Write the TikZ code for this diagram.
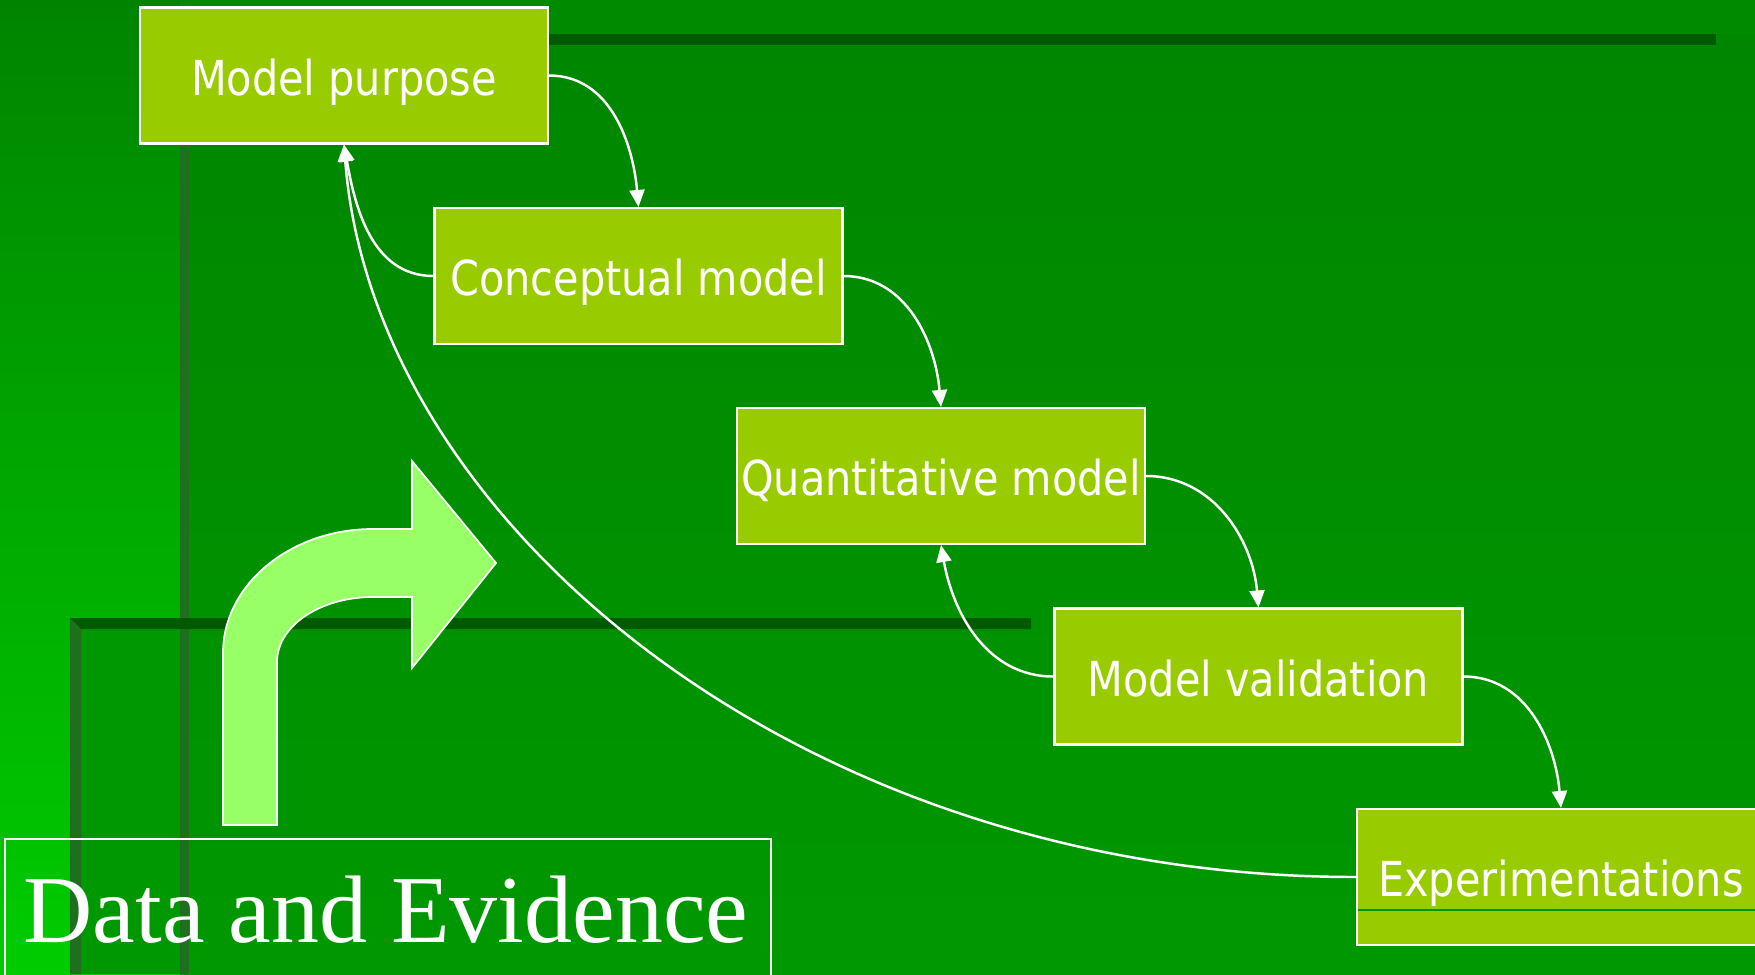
\documentclass[tikz,border=0pt]{standalone}
\usepackage{fontspec}
\usepackage{tikz}
\usetikzlibrary{arrows.meta}
\newfontfamily\boxfont[FakeStretch=0.86]{DejaVu Sans}
\newfontfamily\titlefont{Liberation Serif}
\definecolor{stripTop}{RGB}{0,132,0}
\definecolor{stripBot}{RGB}{0,204,0}
\definecolor{topGreen}{RGB}{0,138,0}
\definecolor{panelTop}{RGB}{0,134,0}
\definecolor{panelBot}{RGB}{0,152,0}
\definecolor{bandGreen}{RGB}{0,90,0}
\definecolor{frameGreen}{RGB}{30,112,30}
\definecolor{boxGreen}{RGB}{153,204,0}
\definecolor{turnGreen}{RGB}{153,255,102}

\begin{document}
\begin{tikzpicture}[x=0.1mm,y=0.1mm,
  stage/.style={draw=white, line width=0.6pt, fill=boxGreen, text=white,
    minimum width=40.8mm, minimum height=13.6mm, inner sep=0pt,
    font=\boxfont\fontsize{13.7pt}{16pt}\selectfont, text height=3.9mm, text depth=0pt},
  flow/.style={draw=white, line width=0.7pt, -{Triangle[length=1.7mm,width=1.5mm]}}]
  \useasboundingbox (0,0) rectangle (1755,-974);
  \shade[top color=stripTop, bottom color=stripBot] (0,0) rectangle (180,-974);
  \fill[topGreen] (180,0) rectangle (1755,-34);
  \shade[top color=panelTop, bottom color=panelBot] (180,-34) rectangle (1755,-974);
  \fill[panelBot] (70,-618) rectangle (180,-974);
  \fill[bandGreen] (189,-34) rectangle (1716,-45);
  \fill[frameGreen] (180,-34) rectangle (189,-974);
  \fill[bandGreen] (70,-618) -- (1031,-618) -- (1031,-629) -- (81,-629) -- cycle;
  \fill[frameGreen] (70,-618) -- (81,-629) -- (81,-974) -- (70,-974) -- cycle;

  \draw[white, line width=0.5pt, fill=turnGreen] (223,-825) -- (223,-653)
    .. controls (223,-585) and (290,-529) .. (373,-529) -- (412,-529) -- (412,-461)
    -- (496,-563) -- (412,-668) -- (412,-597) -- (373,-597)
    .. controls (320,-597) and (277,-626) .. (277,-662) -- (277,-825) -- cycle;

  \node[stage] (purpose) at (344,-75.5) {Model purpose};
  \node[stage] (concept) at (638.5,-276) {Conceptual model};
  \node[stage] (quant) at (941,-476) {Quantitative model};
  \node[stage] (valid) at (1258.5,-676.5) {Model validation};
  \node[stage] (exper) at (1561,-877) {Experimentations};
  \draw[line width=0.3pt, panelBot] (1358,-910) -- (1755,-910);

  \node[draw=white, line width=0.6pt, anchor=north west, minimum width=76.6mm,
    minimum height=16mm, inner sep=0pt] (evbox) at (4,-838) {};
  \node[anchor=base west, inner sep=0pt, text=white,
    font=\titlefont\fontsize{27.3pt}{30pt}\selectfont] (evtext) at (23,-942) {Data and Evidence};

  \draw[flow] (purpose.east) to[out=0,in=95] (concept.north);
  \draw[flow] (concept.east) to[out=0,in=95] (quant.north);
  \draw[flow] (quant.east) to[out=0,in=95] (valid.north);
  \draw[flow] (valid.east) to[out=0,in=95] (exper.north);
  \draw[flow] (concept.west) to[out=180,in=-80] (purpose.south);
  \draw[flow] (valid.west) to[out=180,in=-80] (quant.south);
  \draw[flow] (exper.west) .. controls +(-557,0) and +(29,-377) .. (purpose.south);
\end{tikzpicture}
\end{document}
